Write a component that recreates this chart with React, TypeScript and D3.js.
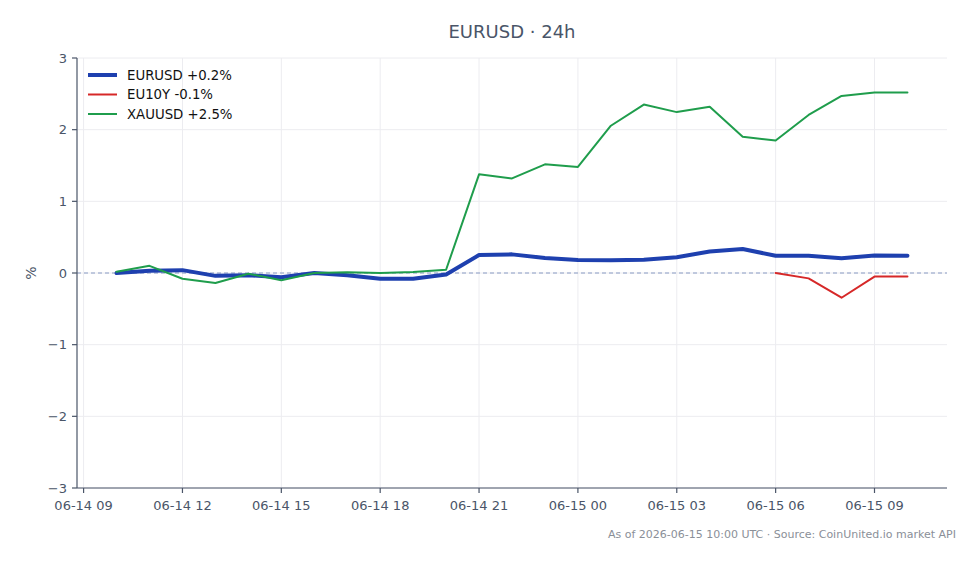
import React from "react";
import * as d3 from "d3";

// Hourly timestamps (UTC) for the 24h window
const times: string[] = [
  "2026-06-14T10:00Z", "2026-06-14T11:00Z", "2026-06-14T12:00Z", "2026-06-14T13:00Z",
  "2026-06-14T14:00Z", "2026-06-14T15:00Z", "2026-06-14T16:00Z", "2026-06-14T17:00Z",
  "2026-06-14T18:00Z", "2026-06-14T19:00Z", "2026-06-14T20:00Z", "2026-06-14T21:00Z",
  "2026-06-14T22:00Z", "2026-06-14T23:00Z", "2026-06-15T00:00Z", "2026-06-15T01:00Z",
  "2026-06-15T02:00Z", "2026-06-15T03:00Z", "2026-06-15T04:00Z", "2026-06-15T05:00Z",
  "2026-06-15T06:00Z", "2026-06-15T07:00Z", "2026-06-15T08:00Z", "2026-06-15T09:00Z",
  "2026-06-15T10:00Z",
];

// Percent change from start of window
const eurusd: number[] = [
  0.0, 0.03, 0.04, -0.04, -0.03, -0.06, 0.0, -0.03, -0.08, -0.08, -0.02, 0.25,
  0.26, 0.21, 0.18, 0.177, 0.186, 0.22, 0.3, 0.335, 0.24, 0.24, 0.205, 0.245, 0.24,
];
const eu10y: (number | null)[] = [
  null, null, null, null, null, null, null, null, null, null, null, null,
  null, null, null, null, null, null, null, null, 0.0, -0.075, -0.345, -0.05, -0.05,
];
const xauusd: number[] = [
  0.018, 0.1, -0.08, -0.14, -0.01, -0.1, 0.0, 0.01, 0.0, 0.015, 0.045, 1.377,
  1.32, 1.516, 1.48, 2.055, 2.35, 2.245, 2.32, 1.9, 1.85, 2.205, 2.47, 2.52, 2.52,
];

const seriesNames = ["EURUSD", "EU10Y", "XAUUSD"];
const seriesColors = ["#1e40af", "#d62828", "#1f9d4c"];
const seriesWidths = [4, 2, 2];
const yTicks = [-3, -2, -1, 0, 1, 2, 3];

const W = 979;
const H = 564;
const M = { left: 77, right: 32, top: 58, bottom: 76 };
const FONT = "'DejaVu Sans', sans-serif";
const AXIS = "#4a5568";
const GRID = "#ececf0";

export default function App() {
  const dates = times.map((t) => new Date(t));
  const t0 = dates[0].getTime();
  const t1 = dates[dates.length - 1].getTime();
  const pad = (t1 - t0) * 0.05;

  const x = d3
    .scaleUtc()
    .domain([new Date(t0 - pad), new Date(t1 + pad)])
    .range([M.left, W - M.right]);
  const y = d3.scaleLinear().domain([-3, 3]).range([H - M.bottom, M.top]);

  const xTicks = d3.utcHour.every(3)!.range(new Date(t0 - pad), new Date(t1 + pad + 1));
  const fmt = d3.utcFormat("%m-%d %H");

  const all = [eurusd, eu10y, xauusd];
  const line = d3
    .line<{ d: Date; v: number | null }>()
    .defined((p) => p.v !== null)
    .x((p) => x(p.d))
    .y((p) => y(p.v as number));

  const lastVal = (arr: (number | null)[]) => {
    const vals = arr.filter((v) => v !== null) as number[];
    return vals[vals.length - 1] - vals[0];
  };
  const labelFor = (i: number) => {
    const v = lastVal(all[i]);
    const s = v.toFixed(1);
    return `${seriesNames[i]} ${v >= 0 ? "+" : ""}${s}%`;
  };

  const x0 = M.left;
  const x1 = W - M.right;
  const yb = H - M.bottom;

  return (
    <svg
      width={W}
      height={H}
      style={{ position: "absolute", left: 0, top: 0, background: "#fff" }}
      fontFamily={FONT}
    >
      {/* grid */}
      {xTicks.map((t, i) => (
        <line key={"gx" + i} x1={x(t)} x2={x(t)} y1={M.top} y2={yb} stroke={GRID} strokeWidth={1} />
      ))}
      {yTicks.map((t) => (
        <line key={"gy" + t} x1={x0} x2={x1} y1={y(t)} y2={y(t)} stroke={GRID} strokeWidth={1} />
      ))}

      {/* zero reference */}
      <line x1={x0} x2={x1} y1={y(0)} y2={y(0)} stroke="#8a9cc4" strokeWidth={1.1} strokeDasharray="4,3" />

      {/* series */}
      {all.map((arr, i) => (
        <path
          key={seriesNames[i]}
          d={line(arr.map((v, j) => ({ d: dates[j], v }))) || ""}
          fill="none"
          stroke={seriesColors[i]}
          strokeWidth={seriesWidths[i]}
          strokeLinejoin="round"
          strokeLinecap="round"
        />
      ))}

      {/* axes */}
      <line x1={x0} x2={x0} y1={M.top} y2={yb} stroke={AXIS} strokeWidth={1.2} />
      <line x1={x0} x2={x1} y1={yb} y2={yb} stroke={AXIS} strokeWidth={1.2} />
      {yTicks.map((t) => (
        <g key={"yt" + t}>
          <line x1={x0 - 5} x2={x0} y1={y(t)} y2={y(t)} stroke={AXIS} strokeWidth={1.2} />
          <text x={x0 - 10} y={y(t)} dy="0.35em" textAnchor="end" fontSize={13} fill={AXIS}>
            {t < 0 ? "\u2212" + Math.abs(t) : String(t)}
          </text>
        </g>
      ))}
      {xTicks.map((t, i) => (
        <g key={"xt" + i}>
          <line x1={x(t)} x2={x(t)} y1={yb} y2={yb + 5} stroke={AXIS} strokeWidth={1.2} />
          <text x={x(t)} y={yb + 22} textAnchor="middle" fontSize={13} fill={AXIS}>
            {fmt(t)}
          </text>
        </g>
      ))}

      {/* y label */}
      <text
        transform={`translate(36,${y(0)}) rotate(-90)`}
        textAnchor="middle"
        fontSize={14}
        fill={AXIS}
      >
        %
      </text>

      {/* title */}
      <text x={(x0 + x1) / 2} y={38} textAnchor="middle" fontSize={18} fill={AXIS}>
        EURUSD · 24h
      </text>

      {/* legend */}
      {seriesNames.map((n, i) => (
        <g key={"lg" + n} transform={`translate(88,${75 + i * 19.5})`}>
          <line x1={0} x2={29} y1={0} y2={0} stroke={seriesColors[i]} strokeWidth={seriesWidths[i]} />
          <text x={39} y={0} dy="0.35em" fontSize={13.3} fill="#111">
            {labelFor(i)}
          </text>
        </g>
      ))}

      {/* footer */}
      <text x={956} y={538} textAnchor="end" fontSize={11} fill="#8a8f98">
        As of 2026-06-15 10:00 UTC · Source: CoinUnited.io market API
      </text>
    </svg>
  );
}
